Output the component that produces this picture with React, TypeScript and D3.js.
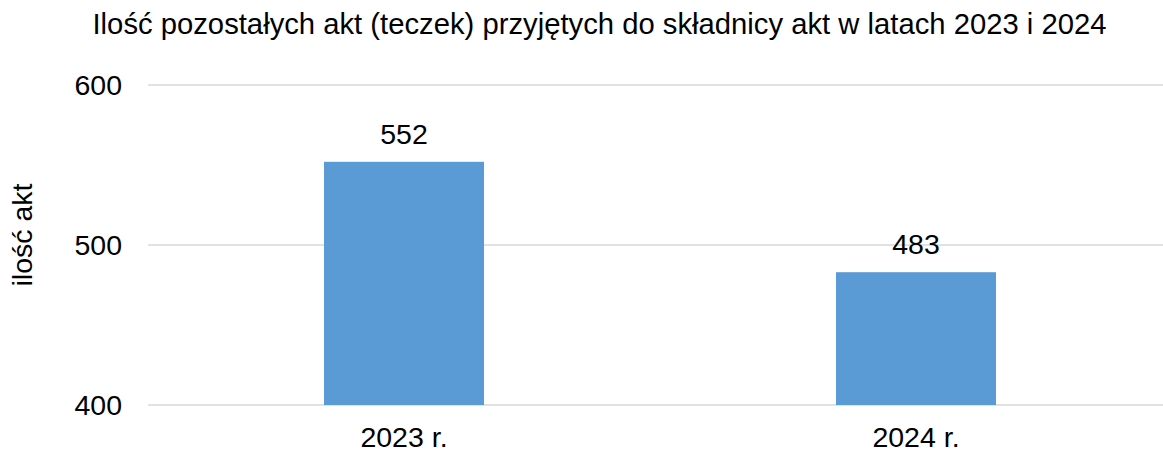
import React from "react";
import * as d3 from "d3";

const categories = ["2023 r.", "2024 r."];
const values = [552, 483];
const yTicks = [400, 500, 600];
const title = "Ilość pozostałych akt (teczek) przyjętych do składnicy akt w latach 2023 i 2024";
const yTitle = "ilość akt";

export default function App() {
  const W = 1163, H = 453;
  const x = d3.scaleBand<string>().domain(categories).range([148, 1172]).padding(0);
  const y = d3.scaleLinear().domain([400, 600]).range([405, 85]);
  const barW = x.bandwidth() * 0.3125;
  const font = "'Liberation Sans', Arial, sans-serif";
  return (
    <svg width={W} height={H} style={{ position: "absolute", left: 0, top: 0, background: "#fff" }} fontFamily={font}>
      <text x={599.5} y={34} textAnchor="middle" fontSize={29} fill="#000" textLength={1014} lengthAdjust="spacingAndGlyphs">{title}</text>
      {yTicks.map((t) => (
        <g key={t}>
          <line x1={148} x2={W} y1={y(t)} y2={y(t)} stroke="#d9d9d9" strokeWidth={1.5} />
          <text x={122} y={y(t)} dy="0.35em" textAnchor="end" fontSize={28.5} fill="#000">{t}</text>
        </g>
      ))}
      <text transform={`translate(32,235) rotate(-90)`} textAnchor="middle" fontSize={28.5} fill="#000">{yTitle}</text>
      {categories.map((c, i) => {
        const cx = (x(c) as number) + x.bandwidth() / 2;
        return (
          <g key={c}>
            <rect x={cx - barW / 2} y={y(values[i])} width={barW} height={y(400) - y(values[i])} fill="#5b9bd5" />
            <text x={cx} y={y(values[i]) - 18} textAnchor="middle" fontSize={28.5} fill="#000">{values[i]}</text>
            <text x={cx} y={447} textAnchor="middle" fontSize={28.5} fill="#000">{c}</text>
          </g>
        );
      })}
    </svg>
  );
}
